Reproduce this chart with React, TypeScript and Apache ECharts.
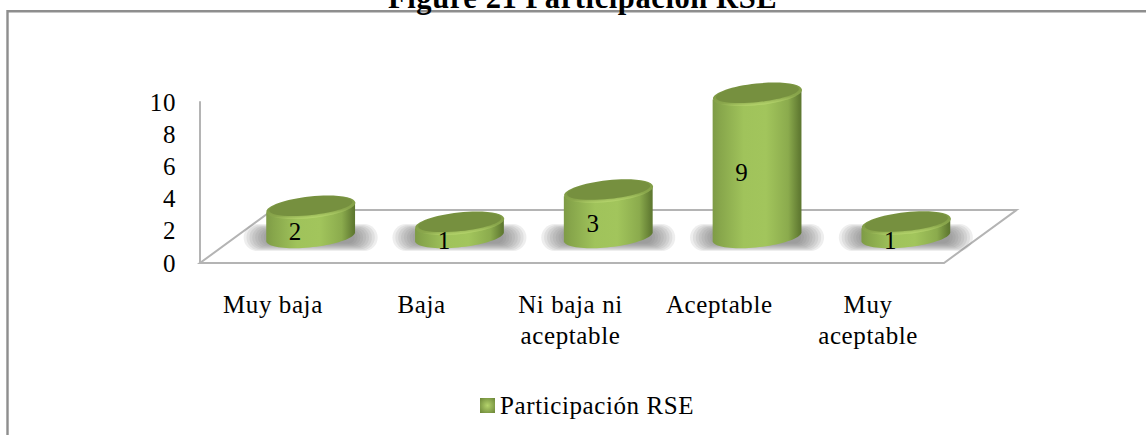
import React, { useEffect, useRef } from "react";
import * as echarts from "echarts";

const categories = ["Muy baja", "Baja", "Ni baja ni\naceptable", "Aceptable", "Muy\naceptable"];
const values = [2, 1, 3, 9, 1];
const seriesName = "Participación RSE";
const titleText = "Figure 21 Participación RSE";

const SERIF = "'Liberation Serif', 'Times New Roman', serif";

// Oblique projection of the chart floor: how far its back edge sits from the front edge.
const DEPTH_X = 72.5;
const DEPTH_Y = 53;
const RX = 44.7;
const RY = 10.8;
const TILT = (6 * Math.PI) / 180;
const SHADOW_LAYERS = 9;

const sideFill = {
  type: "linear", x: 0, y: 0, x2: 1, y2: 0,
  colorStops: [
    { offset: 0, color: "#7e9b46" },
    { offset: 0.08, color: "#87a64b" },
    { offset: 0.35, color: "#a0c35b" },
    { offset: 0.6, color: "#a2c55c" },
    { offset: 0.85, color: "#8bab4d" },
    { offset: 0.97, color: "#647e34" },
    { offset: 1, color: "#5c762f" },
  ],
};
const rimFill = {
  type: "linear", x: 0, y: 0, x2: 0, y2: 1,
  colorStops: [
    { offset: 0, color: "#76903f" },
    { offset: 0.75, color: "#8aa74c" },
    { offset: 1, color: "#b5d56c" },
  ],
};

// Lower half of a tilted ellipse, left to right, as polygon points.
function lowerArc(cx: number, cy: number) {
  const pts: number[][] = [];
  const cos = Math.cos(TILT);
  const sin = Math.sin(TILT);
  const start = Math.atan2(RY * sin, -RX * cos);
  for (let i = 0; i <= 40; i++) {
    const t = start - (i / 40) * Math.PI;
    const ex = RX * Math.cos(t);
    const ey = RY * Math.sin(t);
    pts.push([cx + ex * cos + ey * sin, cy - ex * sin + ey * cos]);
  }
  return pts;
}

// Cast shadow on the floor: nested translucent rounded rects build up a soft falloff.
function shadowLayers(cx: number, cy: number) {
  return Array.from({ length: SHADOW_LAYERS }, (_, k) => {
    const t = k / (SHADOW_LAYERS - 1);
    const w = 134 - 46 * t;
    const h = 27 - 15 * t;
    return {
      type: "rect",
      shape: { x: cx - w / 2, y: cy - h / 2, width: w, height: h, r: h / 2 },
      style: { fill: "rgba(115,115,115,0.12)" },
    };
  });
}

function renderFloor(params: any) {
  const { x, y, width, height } = params.coordSys;
  const y0 = y + height;
  return {
    type: "polygon",
    shape: {
      points: [
        [x, y0],
        [x + width, y0],
        [x + width + DEPTH_X, y0 - DEPTH_Y],
        [x + DEPTH_X, y0 - DEPTH_Y],
      ],
    },
    style: { fill: "#ffffff", stroke: "#b4b4b4", lineWidth: 2 },
  };
}

function renderCylinder(_params: any, api: any) {
  const i = api.value(0);
  const v = api.value(1);
  const [fx, fy] = api.coord([i, v]);
  const [, zeroY] = api.coord([i, 0]);
  const [, labelY] = api.coord([i, v * 0.53]);
  const cx = fx + DEPTH_X / 2;
  const topY = fy - 23.5;
  const baseY = zeroY - DEPTH_Y / 2;

  const bottom = lowerArc(cx, baseY);
  const top = lowerArc(cx, topY);
  const body = [top[0], ...bottom, top[top.length - 1]];

  return {
    type: "group",
    children: [
      ...shadowLayers(cx, baseY + 1),
      { type: "polygon", shape: { points: body }, style: { fill: sideFill } },
      {
        type: "ellipse",
        originX: cx,
        originY: topY,
        rotation: TILT,
        shape: { cx, cy: topY, rx: RX, ry: RY },
        style: { fill: rimFill },
      },
      {
        type: "ellipse",
        originX: cx,
        originY: topY - 1,
        rotation: TILT,
        shape: { cx, cy: topY - 1, rx: RX - 3, ry: RY - 2 },
        style: { fill: "#76903f" },
      },
      {
        type: "text",
        style: {
          text: String(v),
          x: fx + 21,
          y: labelY - 14,
          fontSize: 25,
          fontFamily: SERIF,
          fill: "#000000",
          align: "center",
          verticalAlign: "middle",
        },
      },
    ],
  };
}

export default function App() {
  const ref = useRef<HTMLDivElement>(null);

  useEffect(() => {
    const chart = echarts.init(ref.current!, null, { renderer: "svg" });
    chart.setOption({
      animation: false,
      backgroundColor: "#ffffff",
      title: {
        text: titleText,
        left: 388,
        top: -18,
        padding: 0,
        textStyle: { fontFamily: SERIF, fontSize: 30.5, fontWeight: "bold", color: "#000000" },
      },
      legend: {
        data: [
          {
            name: seriesName,
            icon: "rect",
            itemStyle: {
              color: {
                type: "radial", x: 0.5, y: 0.5, r: 0.65,
                colorStops: [
                  { offset: 0, color: "#b4d36c" },
                  { offset: 1, color: "#6f8a3a" },
                ],
              },
            },
          },
        ],
        left: 480,
        top: 393,
        padding: 0,
        itemWidth: 15,
        itemHeight: 15,
        textStyle: { fontFamily: SERIF, fontSize: 25, color: "#000000" },
      },
      grid: { left: 200, top: 102, width: 744, height: 161, containLabel: false },
      xAxis: {
        type: "category",
        data: categories,
        axisLine: { show: false },
        axisTick: { show: false },
        axisLabel: {
          interval: 0,
          margin: 26,
          fontFamily: SERIF,
          fontSize: 25,
          lineHeight: 31,
          color: "#000000",
          align: "center",
          padding: [0, 3, 0, 0],
        },
      },
      yAxis: {
        type: "value",
        min: 0,
        max: 10,
        interval: 2,
        axisLine: { show: true, lineStyle: { color: "#b4b4b4", width: 2 } },
        axisTick: { show: false },
        splitLine: { show: false },
        axisLabel: { margin: 24, fontFamily: SERIF, fontSize: 25, color: "#000000" },
      },
      series: [
        {
          type: "custom",
          name: "floor",
          silent: true,
          z: 1,
          renderItem: renderFloor,
          data: [[0, 0]],
        },
        {
          type: "custom",
          name: seriesName,
          silent: true,
          z: 2,
          clip: false,
          renderItem: renderCylinder,
          encode: { x: 0, y: 1 },
          data: values.map((v, i) => [i, v]),
        },
      ],
      graphic: [
        {
          type: "polyline",
          silent: true,
          shape: { points: [[7.5, 435], [7.5, 11.3], [1146, 11.3]] },
          style: { stroke: "#8e8e8e", lineWidth: 2.4, fill: "none" },
        },
      ],
    });
    return () => chart.dispose();
  }, []);

  return (
    <div
      ref={ref}
      style={{
        position: "fixed",
        left: 0,
        top: 0,
        width: 1146,
        height: 435,
        background: "#ffffff",
        letterSpacing: "0.6px",
      }}
    />
  );
}
